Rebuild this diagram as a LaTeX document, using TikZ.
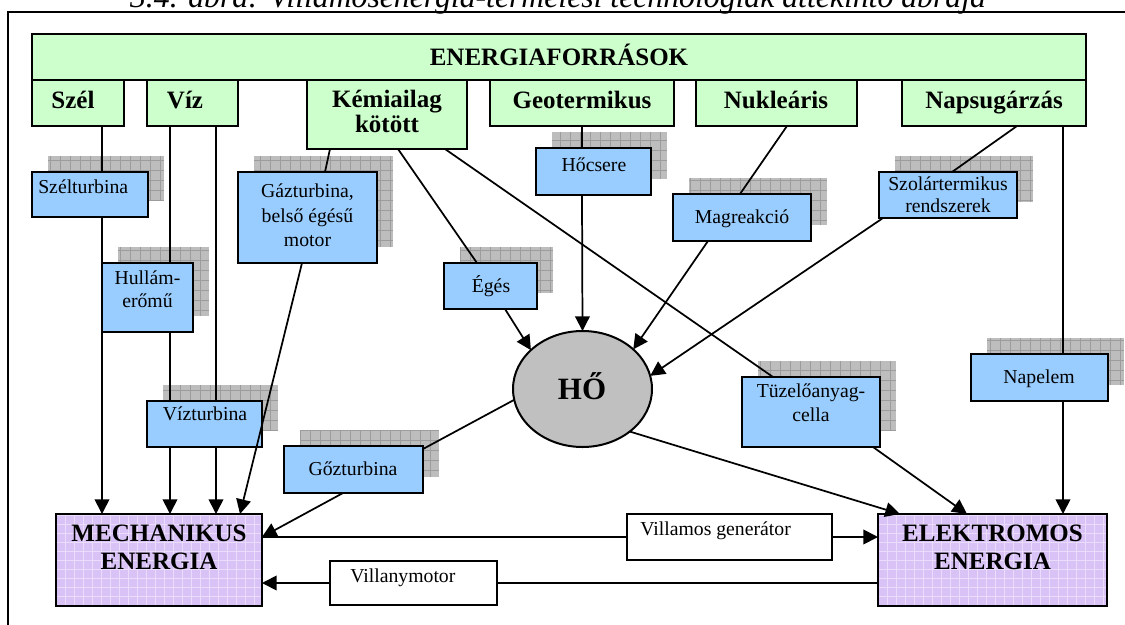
\documentclass[tikz,border=0pt]{standalone}
\usepackage{fontspec}
\setmainfont{Liberation Serif}
\usetikzlibrary{shapes.geometric,fit,backgrounds,arrows.meta}
\definecolor{grn}{HTML}{CCFFCC}
\definecolor{blu}{HTML}{99CCFF}
\definecolor{hog}{HTML}{C0C0C0}
\definecolor{pur}{HTML}{D9C2F5}
\definecolor{purl}{HTML}{EADCFA}
\definecolor{shd}{HTML}{BDBDBD}
\definecolor{shdl}{HTML}{9C9C9C}
\newcommand\dropshd[1]{\path[shdbox] ([shift={(16,-16)}]#1.south west) rectangle ([shift={(16,-16)}]#1.north east);}
\begin{document}
\begin{tikzpicture}[x=0.75pt,y=-0.75pt,
  box/.style={draw, line width=1.5pt, inner sep=0pt, outer sep=0pt},
  src/.style={box, fill=grn},
  tech/.style={box, fill=blu},
  eng/.style={box, fill=pur, path picture={\draw[purl, line width=0.6pt, step=6.75pt] (path picture bounding box.south west) grid (path picture bounding box.north east);}},
  wbox/.style={box, fill=white},
  shdbox/.style={fill=shd, path picture={\draw[shdl, line width=0.5pt, step=7.5pt] (path picture bounding box.south west) grid (path picture bounding box.north east);}},
  conn/.style={line width=1.3pt},
  arr/.style={conn, -{Triangle[length=11pt,width=11pt]}},
  rt/.style={font=\fontsize{14.8}{18}\selectfont, inner sep=0pt},
  bt/.style={font=\fontsize{18.75}{21}\selectfont\bfseries, inner sep=0pt}]
\useasboundingbox (0,0) rectangle (1125,625);
% title and frame
\node[font=\fontsize{23.8}{26}\selectfont\itshape, anchor=base, inner sep=0pt] (title) at (558,7) {3.4. ábra: Villamosenergia-termelési technológiák áttekintő ábrája};
\draw[line width=1.5pt] (8,12) rectangle (1140,640);
% sources
\node[src, fit={(32,34) (1086,80)}] (src) {};
\node[src, fit={(32,80) (124,126)}] (szel) {};
\node[src, fit={(147,80) (238,126)}] (viz) {};
\node[src, fit={(307,80) (467,149)}] (kem) {};
\node[src, fit={(490,80) (674,126)}] (geo) {};
\node[src, fit={(696,80) (857,126)}] (nuk) {};
\node[src, fit={(902,80) (1086,126)}] (nap) {};
% technologies
\node[tech, fit={(32,172) (148,217)}] (sztb) {};
\node[tech, fit={(238,172) (377,263)}] (gaz) {};
\node[tech, fit={(102,263) (193,332)}] (hul) {};
\node[tech, fit={(147,401) (262,447)}] (vizt) {};
\node[tech, fit={(284,446) (423,493)}] (goz) {};
\node[tech, fit={(536,148) (651,195)}] (hoc) {};
\node[tech, fit={(444,263) (537,309)}] (eges) {};
\node[tech, fit={(673,194) (811,241)}] (mag) {};
\node[tech, fit={(879,172) (1017,218)}] (szol) {};
\node[tech, fit={(742,377) (880,447)}] (tuz) {};
\node[tech, fit={(971,354) (1108,401)}] (napel) {};
% energy
\node[eng, fit={(56,514) (262,606)}] (mech) {};
\node[eng, fit={(878,514) (1107,606)}] (elek) {};
\node[wbox, fit={(627,514) (832,560)}] (gen) {};
\node[wbox, fit={(330,561) (497,605)}] (mot) {};
\node[ellipse, draw, line width=1.5pt, fill=hog, minimum width=104.25pt, minimum height=87pt, inner sep=0pt, outer sep=0pt] (ho) at (582.5,389) {};
% shadows
\begin{scope}[on background layer]
\dropshd{sztb}\dropshd{gaz}\dropshd{hul}\dropshd{vizt}\dropshd{goz}\dropshd{hoc}
\dropshd{eges}\dropshd{mag}\dropshd{szol}\dropshd{tuz}\dropshd{napel}
\end{scope}
% texts
\node[bt, anchor=base] (src-t) at (559,65) {ENERGIAFORRÁSOK};
\node[bt, anchor=base] (szel-t) at (73,108) {Szél};
\node[bt, anchor=base] (viz-t) at (185,108) {Víz};
\node[bt, align=center, font=\fontsize{18.75}{18.75}\selectfont\bfseries] (kem-t) at (387,111) {Kémiailag\\kötött};
\node[bt, anchor=base] (geo-t) at (582,108) {Geotermikus};
\node[bt, anchor=base] (nuk-t) at (776,108) {Nukleáris};
\node[bt, anchor=base] (nap-t) at (994,108) {Napsugárzás};
\node[rt, anchor=base west] (sztb-t) at (38,193) {Szélturbina};
\node[rt, align=center, font=\fontsize{14.8}{18.4}\selectfont] (gaz-t) at (307.5,215.6) {Gázturbina,\\belső égésű\\motor};
\node[rt, align=center, font=\fontsize{14.8}{17.25}\selectfont] (hul-t) at (147.5,289.6) {Hullám-\\erőmű};
\node[rt, anchor=base] (vizt-t) at (205,420) {Vízturbina};
\node[rt, anchor=base] (goz-t) at (353,475) {Gőzturbina};
\node[rt, anchor=base] (hoc-t) at (594,171) {Hőcsere};
\node[rt, anchor=base] (eges-t) at (491,292) {Égés};
\node[rt, anchor=base] (mag-t) at (742,223) {Magreakció};
\node[rt, align=center, font=\fontsize{14.8}{16.5}\selectfont] (szol-t) at (948,195) {Szolártermikus\\rendszerek};
\node[rt, align=center, font=\fontsize{14.8}{18}\selectfont] (tuz-t) at (811,403) {Tüzelőanyag-\\cella};
\node[rt, anchor=base] (napel-t) at (1039,383) {Napelem};
\node[bt, align=center] (mech-t) at (159,547.6) {MECHANIKUS\\ENERGIA};
\node[bt, align=center] (elek-t) at (992.5,547.6) {ELEKTROMOS\\ENERGIA};
\node[rt, anchor=base west] (gen-t) at (640,535) {Villamos generátor};
\node[rt, anchor=base west] (mot-t) at (350,582) {Villanymotor};
\node[font=\fontsize{23.25}{24}\selectfont\bfseries, anchor=base, inner sep=0pt] (ho-t) at (582,399) {HŐ};
% connectors
\draw[conn] (szel.south -| 102,0) -- (sztb.north -| 102,0);
\draw[arr] (sztb.south -| 102,0) -- (mech.north -| 102,0);
\draw[conn] (viz.south -| 170,0) -- (hul.north -| 170,0);
\draw[conn] (hul.south -| 170,0) -- (vizt.north -| 170,0);
\draw[arr] (vizt.south -| 170,0) -- (mech.north -| 170,0);
\draw[conn] (viz.south -| 216,0) -- (vizt.north -| 216,0);
\draw[arr] (vizt.south -| 216,0) -- (mech.north -| 216,0);
\draw[conn] (kem.south -| 330,0) -- (gaz.north -| 325,0);
\draw[arr] (gaz.south -| 302,0) -- (mech.north -| 240,0);
\draw[conn] (kem.south -| 398,0) -- (eges.north -| 477,0);
\draw[arr] (eges.south -| 505,0) -- (ho.143);
\draw[conn] (kem.south -| 445,0) -- (tuz.north -| 773,0);
\draw[arr] (tuz.south -| 873,0) -- (elek.north -| 967,0);
\draw[conn] (geo.south -| 582,0) -- (hoc.north -| 582,0);
\draw[arr] (hoc.south -| 582,0) -- (ho.north);
\draw[conn] (nuk.south -| 787,0) -- (mag.north -| 740,0);
\draw[arr] (mag.south -| 708,0) -- (ho.38);
\draw[conn] (nap.south -| 1017,0) -- (szol.north -| 952,0);
\draw[arr] (szol.south -| 883,0) -- (ho.11);
\draw[conn] (nap.south -| 1063,0) -- (napel.north -| 1063,0);
\draw[arr] (napel.south -| 1063,0) -- (elek.north -| 1063,0);
\draw[conn] (ho.189) -- (goz.east |- 0,449);
\draw[arr] (goz.south -| 343,0) -- (mech.east |- gen.west);
\draw[arr] (ho.-42) -- (elek.north -| 900,0);
\draw[conn] (mech.east |- gen.west) -- (gen.west);
\draw[arr] (gen.east) -- (elek.west |- gen.east);
\draw[conn] (elek.west |- mot.east) -- (mot.east);
\draw[arr] (mot.west) -- (mech.east |- mot.west);
\end{tikzpicture}
\end{document}
